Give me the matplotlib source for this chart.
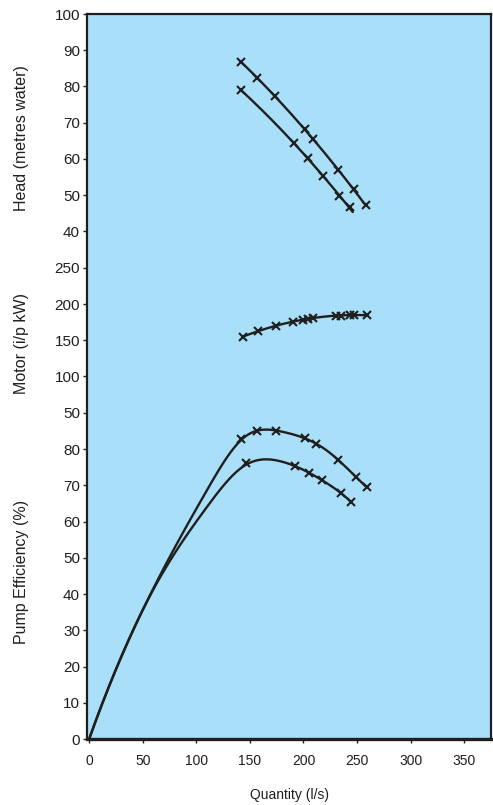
import numpy as np
import matplotlib
matplotlib.use('Agg')
import matplotlib.pyplot as plt

plt.rcParams['font.family'] = ['Liberation Sans', 'DejaVu Sans']

# --- data ---
# head curves (metres water)
head_a_q = [142, 157, 173, 201, 209, 232, 247, 258]
head_a_h = [86.7, 82.4, 77.3, 68.3, 65.5, 57.1, 51.6, 47.2]
head_b_q = [142, 191, 204, 218, 233, 243]
head_b_h = [78.9, 64.4, 60.4, 55.3, 49.7, 46.8]

# motor input (kW)
motor_q = [144, 158, 174, 190, 200, 204, 209, 230, 235, 243, 247, 259]
motor_kw = [155, 163, 170, 175.5, 178.3, 179.7, 181, 183.8, 184, 184.5, 184.8, 184.8]

# pump efficiency (%) - measured points
eff_a_q = [142, 157, 174, 201, 212, 232, 249, 259]
eff_a_e = [82.8, 84.9, 85.1, 83.1, 81.4, 77.0, 72.4, 69.4]
eff_b_q = [146, 192, 205, 217, 235, 244]
eff_b_e = [76.1, 75.2, 73.5, 71.5, 67.8, 65.5]

# efficiency curve traces from the origin (where there are no markers)
trace_a_q = [0, 14, 33, 47, 58, 78, 100, 117]
trace_a_e = [0, 11.5, 24.5, 33.5, 40.5, 52.0, 63.5, 72.0]
trace_b_q = [0, 14, 33, 47, 58, 78, 100, 118, 138, 159]
trace_b_e = [0, 11.5, 24.5, 33.5, 40.5, 50.5, 59.9, 67.3, 73.3, 77.0]

eff_ticks = [0, 10, 20, 30, 40, 50, 60, 70, 80]
motor_ticks = [50, 100, 150, 200, 250]
head_ticks = [40, 50, 60, 70, 80, 90, 100]
x_ticks = [0, 50, 100, 150, 200, 250, 300, 350]


# the three scales are stacked on one axis
def eff_y(e):
    return np.asarray(e) / 10.0


def motor_y(kw):
    return 8 + np.asarray(kw) / 50.0


def head_y(h):
    return 13 + (np.asarray(h) - 30) / 10.0


BG = '#aadff9'
INK = '#1f1f1f'

fig = plt.figure(figsize=(4.93, 8.05), dpi=100)
ax = fig.add_axes([87 / 493, 66 / 805, 404 / 493, 725 / 805])
ax.set_facecolor(BG)
ax.set_xlim(-2, 375)
ax.set_ylim(0, 20)


def smooth(q, v, deg, q0, q1):
    c = np.polyfit(q, v, deg)
    qq = np.linspace(q0, q1, 200)
    return qq, np.polyval(c, qq)


def regspline(q, v, knots, q0, q1):
    # least-squares cubic spline through the read points, pinned at the origin
    q = np.asarray(q, float) / 100
    v = np.asarray(v, float)
    ks = np.asarray(knots, float) / 100

    def basis(x):
        cols = [x, x**2, x**3] + [np.clip(x - k, 0, None)**3 for k in ks]
        return np.column_stack(cols)

    c, *_ = np.linalg.lstsq(basis(q), v, rcond=None)
    qq = np.linspace(q0, q1, 300) / 100
    return qq * 100, basis(qq) @ c


line_kw = dict(color=INK, lw=1.7, solid_capstyle='round')
mark_kw = dict(ls='none', marker='x', ms=6, mew=1.5, color=INK)
knots = [60, 110, 145, 180, 220]

# head
qq, hh = smooth(head_a_q, head_a_h, 2, head_a_q[0], head_a_q[-1])
ax.plot(qq, head_y(hh), **line_kw)
ax.plot(head_a_q, head_y(head_a_h), **mark_kw)
qq, hh = smooth(head_b_q, head_b_h, 2, head_b_q[0], 246)
ax.plot(qq, head_y(hh), **line_kw)
ax.plot(head_b_q, head_y(head_b_h), **mark_kw)

# motor
qq, kk = smooth(motor_q, motor_kw, 2, motor_q[0], motor_q[-1])
ax.plot(qq, motor_y(kk), **line_kw)
ax.plot(motor_q, motor_y(motor_kw), **mark_kw)

# efficiency
qq, ee = regspline(trace_a_q + eff_a_q, trace_a_e + eff_a_e, knots, 0, eff_a_q[-1])
ax.plot(qq, eff_y(ee), **line_kw)
ax.plot(eff_a_q, eff_y(eff_a_e), **mark_kw)
qq, ee = regspline(trace_b_q + eff_b_q, trace_b_e + eff_b_e, knots, 0, eff_b_q[-1])
ax.plot(qq, eff_y(ee), **line_kw)
ax.plot(eff_b_q, eff_y(eff_b_e), **mark_kw)

# ticks
ypos = list(eff_y(eff_ticks)) + list(motor_y(motor_ticks)) + list(head_y(head_ticks))
ylab = [str(t) for t in eff_ticks + motor_ticks + head_ticks]
ax.set_yticks(ypos)
ax.set_yticklabels(ylab)
ax.set_xticks(x_ticks)
ax.tick_params(axis='both', direction='out', length=3, width=1, color=INK,
               labelcolor=INK, pad=3)
ax.tick_params(axis='y', labelsize=11, pad=2)
ax.tick_params(axis='x', labelsize=10, pad=8)

for side in ['top', 'right', 'left']:
    ax.spines[side].set_linewidth(1.6)
    ax.spines[side].set_color(INK)
ax.spines['bottom'].set_linewidth(2.4)
ax.spines['bottom'].set_color(INK)

ax.set_xlabel('Quantity (l/s)', fontsize=10, color=INK, labelpad=14)

# stacked y labels
fig.text(22 / 493, 1 - 138 / 805, 'Head (metres water)', rotation=90,
         ha='center', va='center', fontsize=11.5, color=INK)
fig.text(22 / 493, 1 - 343 / 805, 'Motor (i/p kW)', rotation=90,
         ha='center', va='center', fontsize=11.5, color=INK)
fig.text(22 / 493, 1 - 572 / 805, 'Pump Efficiency (%)', rotation=90,
         ha='center', va='center', fontsize=11.5, color=INK)

fig.savefig('out.png', dpi=100, facecolor='white')
